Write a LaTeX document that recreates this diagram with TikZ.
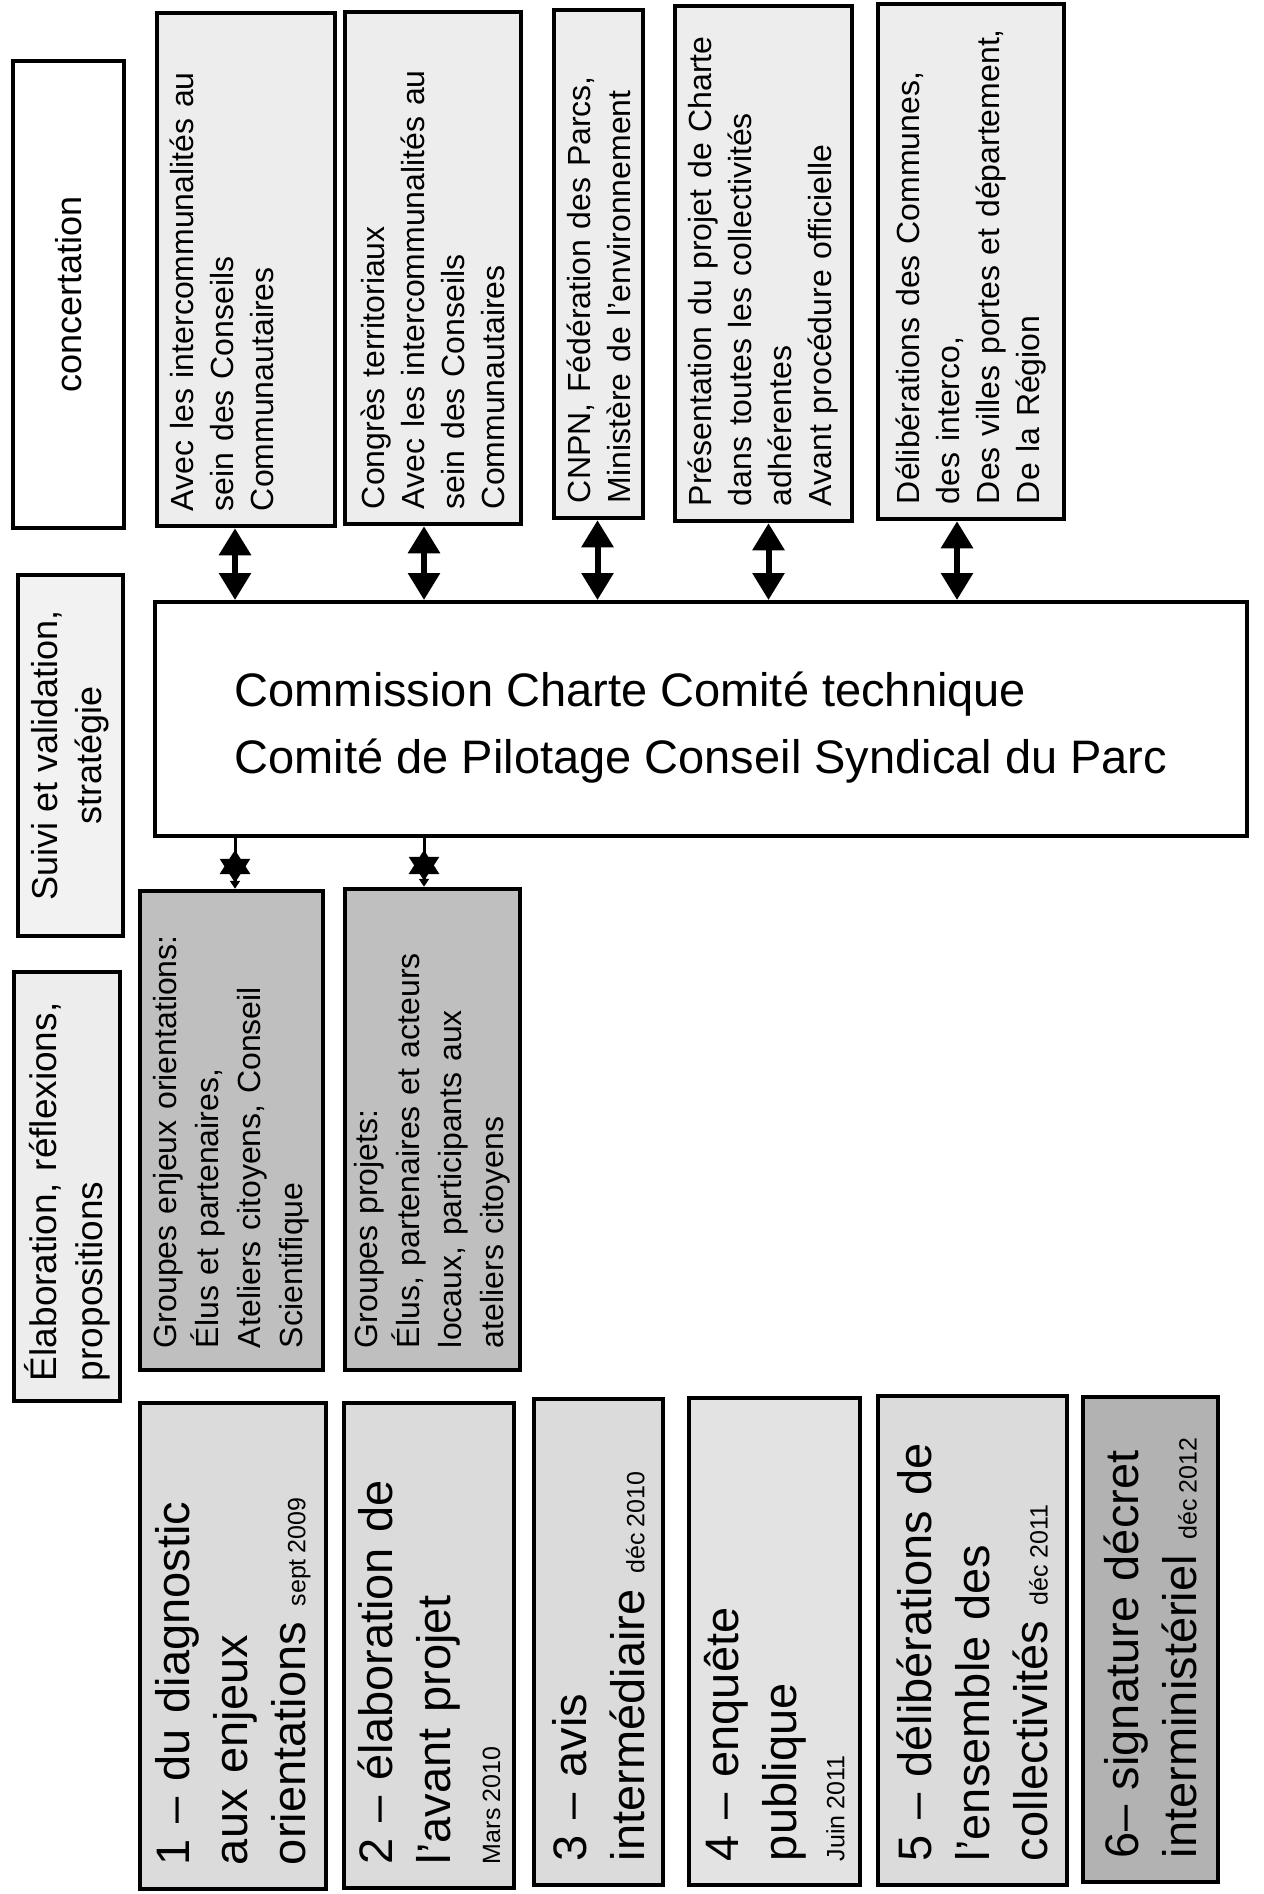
\documentclass[tikz,border=0pt]{standalone}
\usepackage{fontspec}
\setmainfont{Liberation Sans}
\usetikzlibrary{arrows.meta}
\newcommand{\stepdate}[2]{{\fontsize{25}{30}\selectfont #1\hspace{6pt}#2}}

\begin{document}
\begin{tikzpicture}[x=1pt, y=-1pt,
	sidebox/.style={draw=black, line width=4.5pt, rotate=90, inner ysep=0pt, font=\fontsize{36}{44}\selectfont},
	topbox/.style={draw=black, line width=4.5pt, fill=black!7, rotate=90, inner xsep=15pt, inner ysep=0pt, align=left, font=\fontsize{32}{40}\selectfont},
	groupbox/.style={draw=black, line width=4.5pt, fill=black!25, rotate=90, inner xsep=22pt, inner ysep=0pt, align=left, font=\fontsize{32}{42}\selectfont},
	stepbox/.style={draw=black, line width=4.5pt, fill=black!14, rotate=90, inner xsep=24pt, inner ysep=0pt, align=left, font=\fontsize{47}{58}\selectfont},
	dbl/.style={line width=6pt, {Triangle[width=31pt,length=27pt]}-{Triangle[width=31pt,length=27pt]}},
	linkdown/.style={line width=3pt, -{Triangle[width=10pt,length=8pt]}},
	starhead/.style={line width=3pt, {Triangle[width=30pt,length=24pt]}-{Triangle[width=30pt,length=24pt]}}
	]
	
	\useasboundingbox (0,0) rectangle (1263,1894);
	
	\node[sidebox, minimum width=467pt, minimum height=111pt] (conc) at (68.5, 294.5) {concertation};
	\node[sidebox, fill=black!5, align=center, minimum width=361pt, minimum height=105pt] (suivi) at (70.5, 755.5) {Suivi et validation,\\ stratégie};
	\node[sidebox, fill=black!7, align=left, inner xsep=20pt, text width=389pt, minimum width=429pt, minimum height=106pt, font=\fontsize{37}{46}\selectfont] (elab) at (67, 1186.5) {Élaboration, réflexions,\\ propositions};
	
	\node[topbox, minimum width=513pt, minimum height=178pt, text width=483pt] (A) at (246, 269.5) {Avec les intercommunalités au\\ sein des Conseils\\ Communautaires\rule[-48pt]{0pt}{48pt}};
	\node[topbox, minimum width=512pt, minimum height=176pt, text width=482pt] (B) at (433, 268) {Congrès territoriaux\\ Avec les intercommunalités au\\ sein des Conseils\\ Communautaires};
	\node[topbox, minimum width=508pt, minimum height=89pt, text width=478pt] (C) at (598.5, 264) {CNPN, Fédération des Parcs,\\ Ministère de l'environnement};
	\node[topbox, minimum width=515pt, minimum height=177pt, text width=485pt] (D) at (763.5, 263.5) {Présentation du projet de Charte\\ dans toutes les collectivités\\ adhérentes\\ Avant procédure officielle};
	\node[topbox, minimum width=515pt, minimum height=186pt, text width=485pt] (E) at (971, 261.5) {Délibérations des Communes,\\ des interco,\\ Des villes portes et département,\\ De la Région};
	
	\node[draw=black, line width=4pt, minimum width=1092pt, minimum height=234pt, align=left, font=\fontsize{47}{67}\selectfont] (main) at (701, 719) {\rule{0pt}{52pt}Commission Charte Comité technique\\ Comité de Pilotage Conseil Syndical du Parc};
	
	\node[groupbox, minimum width=479pt, minimum height=183pt, text width=435pt] (G1) at (231.5, 1130.5) {Groupes enjeux orientations:\\ Élus et partenaires,\\ Ateliers citoyens, Conseil\\ Scientifique};
	\node[groupbox, minimum width=481pt, minimum height=175pt, text width=437pt] (G2) at (432.5, 1129.5) {Groupes projets:\\ Élus, partenaires et acteurs\\ locaux, participants aux\\ ateliers citoyens};
	
	\node[stepbox, minimum width=486pt, minimum height=186pt, text width=438pt] (S1) at (233, 1646) {1 -- du diagnostic\\ aux enjeux\\ orientations~\stepdate{sept}{2009}};
	\node[stepbox, minimum width=485pt, minimum height=170pt, text width=437pt] (S2) at (429, 1645.5) {2 -- élaboration de\\ l'avant projet\\[-8pt] \stepdate{Mars}{2010}};
	\node[stepbox, minimum width=486pt, minimum height=129pt, text width=438pt] (S3) at (598.5, 1642) {3 -- avis\\ intermédiaire~\stepdate{déc}{2010}};
	\node[stepbox, minimum width=487pt, minimum height=171pt, text width=439pt, fill=black!11] (S4) at (774.5, 1641.5) {4 -- enquête\\ publique\\[-10pt] \stepdate{Juin}{2011}};
	\node[stepbox, minimum width=489pt, minimum height=189pt, text width=441pt] (S5) at (972.5, 1640.5) {5 -- délibérations de\\ l'ensemble des\\ collectivités~\stepdate{déc}{2011}};
	\node[stepbox, minimum width=485pt, minimum height=135pt, text width=437pt, fill=black!30] (S6) at (1150.5, 1639.5) {6-- signature décret\\ interministériel~\stepdate{déc}{2012}};
	
	\coordinate (pa) at ([xshift=-11pt]A.west);
	\coordinate (pb) at ([xshift=-9pt]B.west);
	\coordinate (pc) at ([xshift=-1pt]C.west);
	\coordinate (pd) at ([xshift=5pt]D.west);
	\coordinate (pe) at ([xshift=-14pt]E.west);
	
	\path[dbl] (pa) edge (pa |- main.north);
	\path[dbl] (pb) edge (pb |- main.north);
	\path[dbl] (pc) edge (pc |- main.north);
	\path[dbl] (pd) edge (pd |- main.north);
	\path[dbl] (pe) edge (pe |- main.north);
	
	\coordinate (ma) at (pa |- main.south);
	\coordinate (ga) at (pa |- G1.east);
	\coordinate (mb) at (pb |- main.south);
	\coordinate (gb) at (pb |- G2.east);
	
	\path[linkdown] (ma) edge (ga);
	\path[linkdown] (mb) edge (gb);
	\path[starhead] ([yshift=-12pt]ma) edge ([yshift=6pt]ga);
	\path[starhead] ([yshift=-12pt]mb) edge ([yshift=6pt]gb);
	
\end{tikzpicture}
\end{document}
